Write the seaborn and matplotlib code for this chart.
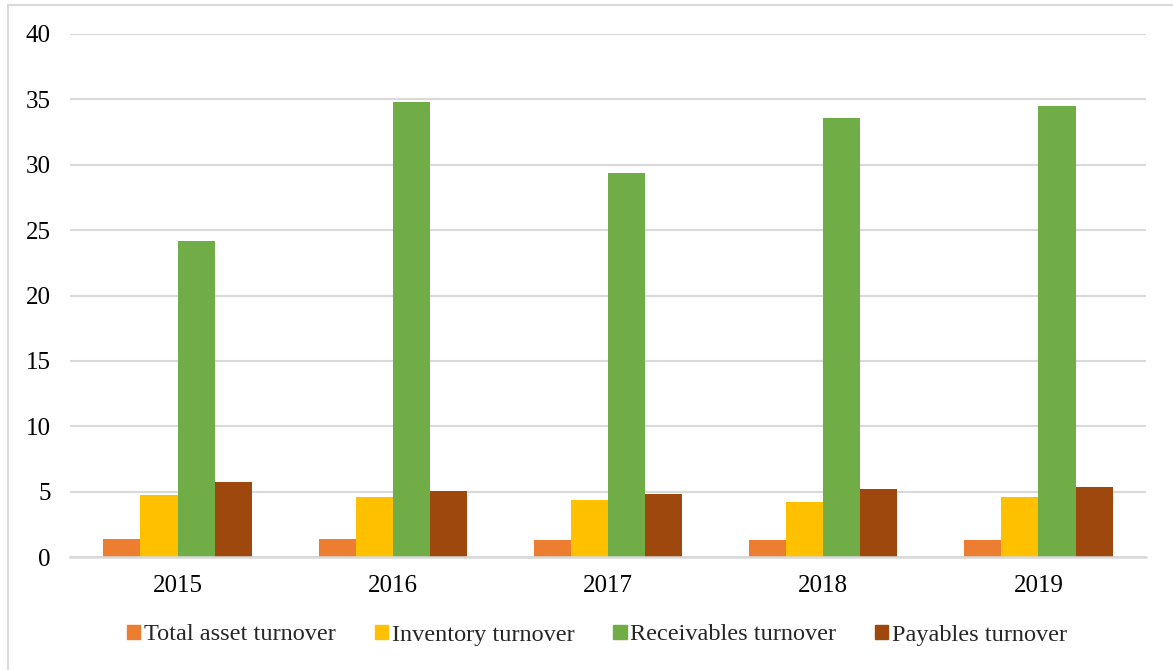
import matplotlib
matplotlib.use("Agg")
import matplotlib.pyplot as plt
import matplotlib.patches as mpatches
import seaborn as sns
import pandas as pd

years = ["2015", "2016", "2017", "2018", "2019"]
series_names = ["Total asset turnover", "Inventory turnover",
                "Receivables turnover", "Payables turnover"]
total_asset = [1.35, 1.35, 1.30, 1.30, 1.30]
inventory = [4.73, 4.58, 4.33, 4.22, 4.58]
receivables = [24.2, 34.8, 29.4, 33.6, 34.5]
payables = [5.70, 5.06, 4.79, 5.17, 5.34]
colors = ["#ED7D31", "#FFC000", "#70AD47", "#9E480E"]
y_ticks = [0, 5, 10, 15, 20, 25, 30, 35, 40]

rows = []
for name, vals in zip(series_names, [total_asset, inventory, receivables, payables]):
    for y, v in zip(years, vals):
        rows.append({"Year": y, "Series": name, "Value": v})
df = pd.DataFrame(rows)

sns.set_theme(style="white")
plt.rcParams["font.family"] = ["Liberation Serif", "DejaVu Serif"]

fig = plt.figure(figsize=(11.73, 6.70), dpi=100)
ax = fig.add_axes([70/1173, 1-557/670, (1146-70)/1173, (557-34)/670])

sns.barplot(data=df, x="Year", y="Value", hue="Series", order=years,
            hue_order=series_names, palette=colors, width=0.69, gap=0,
            linewidth=0, saturation=1, ax=ax, legend=False)

ax.set_ylim(0, 40)
ax.set_xlim(-0.5, len(years) - 0.5)
ax.set_yticks(y_ticks)
ax.set_yticklabels([str(t) for t in y_ticks])
ax.set_xlabel("")
ax.set_ylabel("")
ax.yaxis.grid(True, color="#d9d9d9", linewidth=1.5)
ax.set_axisbelow(True)
for s in ["top", "right", "left"]:
    ax.spines[s].set_visible(False)
ax.spines["bottom"].set_color("#d9d9d9")
ax.spines["bottom"].set_linewidth(1.8)
ax.tick_params(axis="both", length=0, labelsize=18, colors="black")
ax.tick_params(axis="y", pad=14)
ax.tick_params(axis="x", pad=13)

handles = [mpatches.Patch(color=c, label=n) for c, n in zip(colors, series_names)]
fig.legend(handles=handles, loc="center", bbox_to_anchor=(597/1173, 1-635/670),
           ncol=4, frameon=False, fontsize=17.5, handlelength=0.55, handleheight=0.55,
           handletextpad=0.15, columnspacing=1.6)

# outer chart frame (clipped at right and bottom in the reference)
frame = mpatches.Rectangle((8/1173, -0.05), 1.1, 1-5/670+0.05, transform=fig.transFigure,
                           fill=False, edgecolor="#d9d9d9", linewidth=1.5)
fig.patches.append(frame)

fig.savefig("out.png", dpi=100)
